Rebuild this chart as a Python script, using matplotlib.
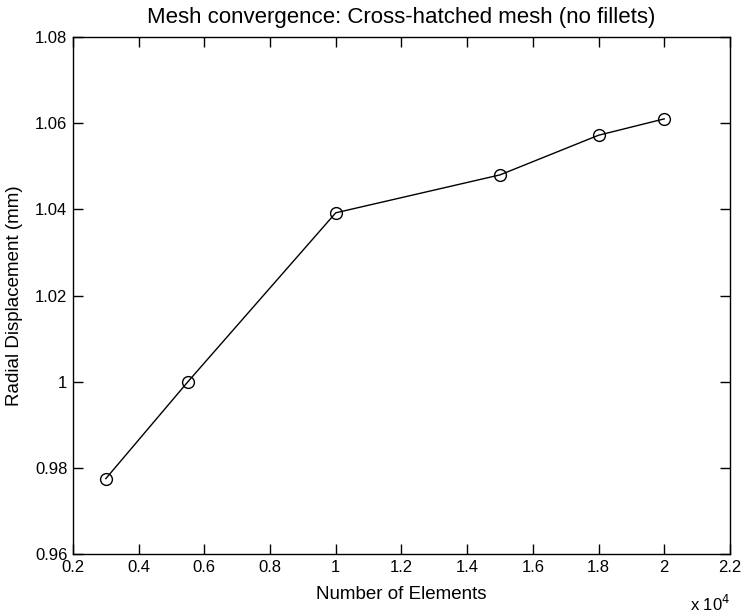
import numpy as np
import matplotlib.pyplot as plt
from matplotlib.ticker import FuncFormatter

plt.rcParams['font.family'] = ['Liberation Sans', 'DejaVu Sans']

# mesh refinement study
n_elements = [3000, 5500, 10000, 15000, 18000, 20000]
radial_disp = [0.9775, 1.000, 1.0392, 1.048, 1.0572, 1.061]

fig = plt.figure(figsize=(7.41, 6.13), dpi=100)
ax = fig.add_axes([0.0985, 0.0962, 0.8865, 0.8434])

ax.plot(n_elements, radial_disp, '-o', color='black', lw=1.0,
        markerfacecolor='none', markeredgecolor='black', markersize=8.5, markeredgewidth=1.0)

ax.set_xlim(2000, 22000)
ax.set_ylim(0.96, 1.08)
ax.set_xticks(np.arange(2000, 22001, 2000))
ax.set_yticks(np.arange(0.96, 1.0801, 0.02))
ax.xaxis.set_major_formatter(FuncFormatter(lambda v, p: f'{v / 1e4:g}'))
ax.yaxis.set_major_formatter(FuncFormatter(lambda v, p: f'{v:g}'))
ax.tick_params(direction='in', top=True, right=True, labelsize=12, length=7, width=1, pad=4)
for s in ax.spines.values():
    s.set_linewidth(1.0)

ax.set_title('Mesh convergence: Cross-hatched mesh (no fillets)', fontsize=16, pad=10)
ax.set_xlabel('Number of Elements', fontsize=13.5, labelpad=8)
ax.set_ylabel('Radial Displacement (mm)', fontsize=13.5, labelpad=9)
ax.text(1.0, -0.078, r'x 10$^{4}$', transform=ax.transAxes, ha='right', va='top', fontsize=12)

fig.savefig('out.png', dpi=100)
